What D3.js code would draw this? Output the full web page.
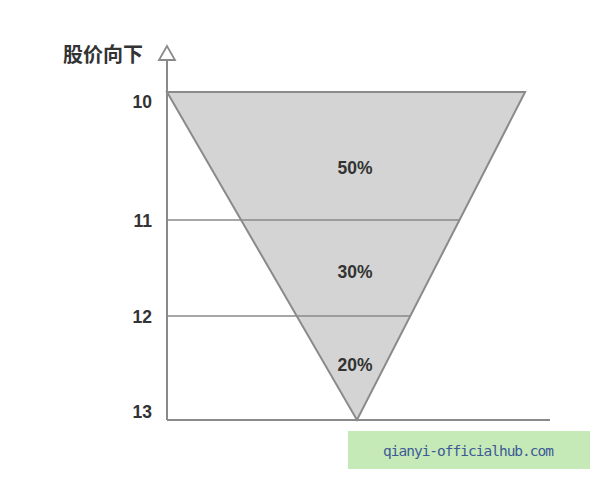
<!DOCTYPE html>
<html><head><meta charset="utf-8">
<script src="https://cdn.jsdelivr.net/npm/d3@7"></script>
<style>body{margin:0;background:#fff;} svg{display:block;}</style>
</head><body>
<svg id="c" width="600" height="480"></svg>
<script>
const priceTicks = [10, 11, 12, 13];
const bandLabels = ["50%", "30%", "20%"];
const bandMid = [10.59, 11.54, 12.47];
const axisTitle = "股价向下";
const watermark = "qianyi-officialhub.com";

const svg = d3.select("#c");
const y = d3.scaleLinear().domain([10, 11, 12, 13]).range([92, 220, 316, 420]);
const x = d3.scaleLinear().domain([0, 100]).range([167, 550]);
const triLeft = 0, triRight = 93.5, apex = 49.6;
const stroke = "#8a8a8a";

// triangle
const tri = [[triLeft, 10], [triRight, 10], [apex, 13]];
svg.append("path")
  .attr("d", d3.line().x(d => x(d[0])).y(d => y(d[1]))(tri) + "Z")
  .attr("fill", "#d4d4d4").attr("stroke", stroke).attr("stroke-width", 2);

// right edge pixel x at price p (interpolated in pixel space)
const rightPx = p => {
  const t = (y(p) - y(10)) / (y(13) - y(10));
  return x(triRight) + (x(apex) - x(triRight)) * t;
};

// horizontal lines for inner ticks
svg.selectAll("line.h").data(priceTicks.slice(1, 3)).join("line")
  .attr("class", "h")
  .attr("x1", x(0)).attr("x2", d => rightPx(d))
  .attr("y1", d => y(d)).attr("y2", d => y(d))
  .attr("stroke", stroke).attr("stroke-width", 1.5);

// baseline
svg.append("line").attr("x1", x(0)).attr("x2", x(100)).attr("y1", y(13)).attr("y2", y(13))
  .attr("stroke", stroke).attr("stroke-width", 2);

// y axis
svg.append("line").attr("x1", x(0)).attr("x2", x(0)).attr("y1", 60).attr("y2", y(13))
  .attr("stroke", stroke).attr("stroke-width", 2);
svg.append("path").attr("d", `M${x(0)},46 L${x(0)-8},60 L${x(0)+8},60 Z`)
  .attr("fill", "#fff").attr("stroke", stroke).attr("stroke-width", 1.8);

// tick labels
const labelOffset = {10: 10, 11: 1, 12: 1, 13: -8};
svg.selectAll("text.t").data(priceTicks).join("text")
  .attr("class", "t")
  .attr("x", 152).attr("y", d => y(d) + labelOffset[d])
  .attr("text-anchor", "end").attr("dominant-baseline", "central")
  .attr("font-family", "Liberation Sans, Arial, sans-serif").attr("font-weight", "bold")
  .attr("font-size", 17.5).attr("fill", "#333").text(d => d);

// axis title
svg.append("text").attr("x", 63).attr("y", 53).attr("dominant-baseline", "central")
  .attr("font-family", "Noto Sans CJK SC, sans-serif").attr("font-weight", "bold")
  .attr("font-size", 20).attr("fill", "#333").text(axisTitle);

// band labels
svg.selectAll("text.b").data(bandLabels).join("text")
  .attr("class", "b")
  .attr("x", 355).attr("y", (d, i) => y(bandMid[i]))
  .attr("text-anchor", "middle").attr("dominant-baseline", "central")
  .attr("font-family", "Liberation Sans, Arial, sans-serif").attr("font-weight", "bold")
  .attr("font-size", 17.5).attr("fill", "#333").text(d => d);

// watermark
svg.append("rect").attr("x", 348).attr("y", 431).attr("width", 242).attr("height", 38).attr("fill", "#c6e9b8");
svg.append("text").attr("x", 383).attr("y", 456)
  .attr("textLength", 171).attr("lengthAdjust", "spacing")
  .attr("font-family", "DejaVu Sans Mono, monospace").attr("font-size", 14.5).attr("fill", "#3d5a96").text(watermark);
</script>
</body></html>
